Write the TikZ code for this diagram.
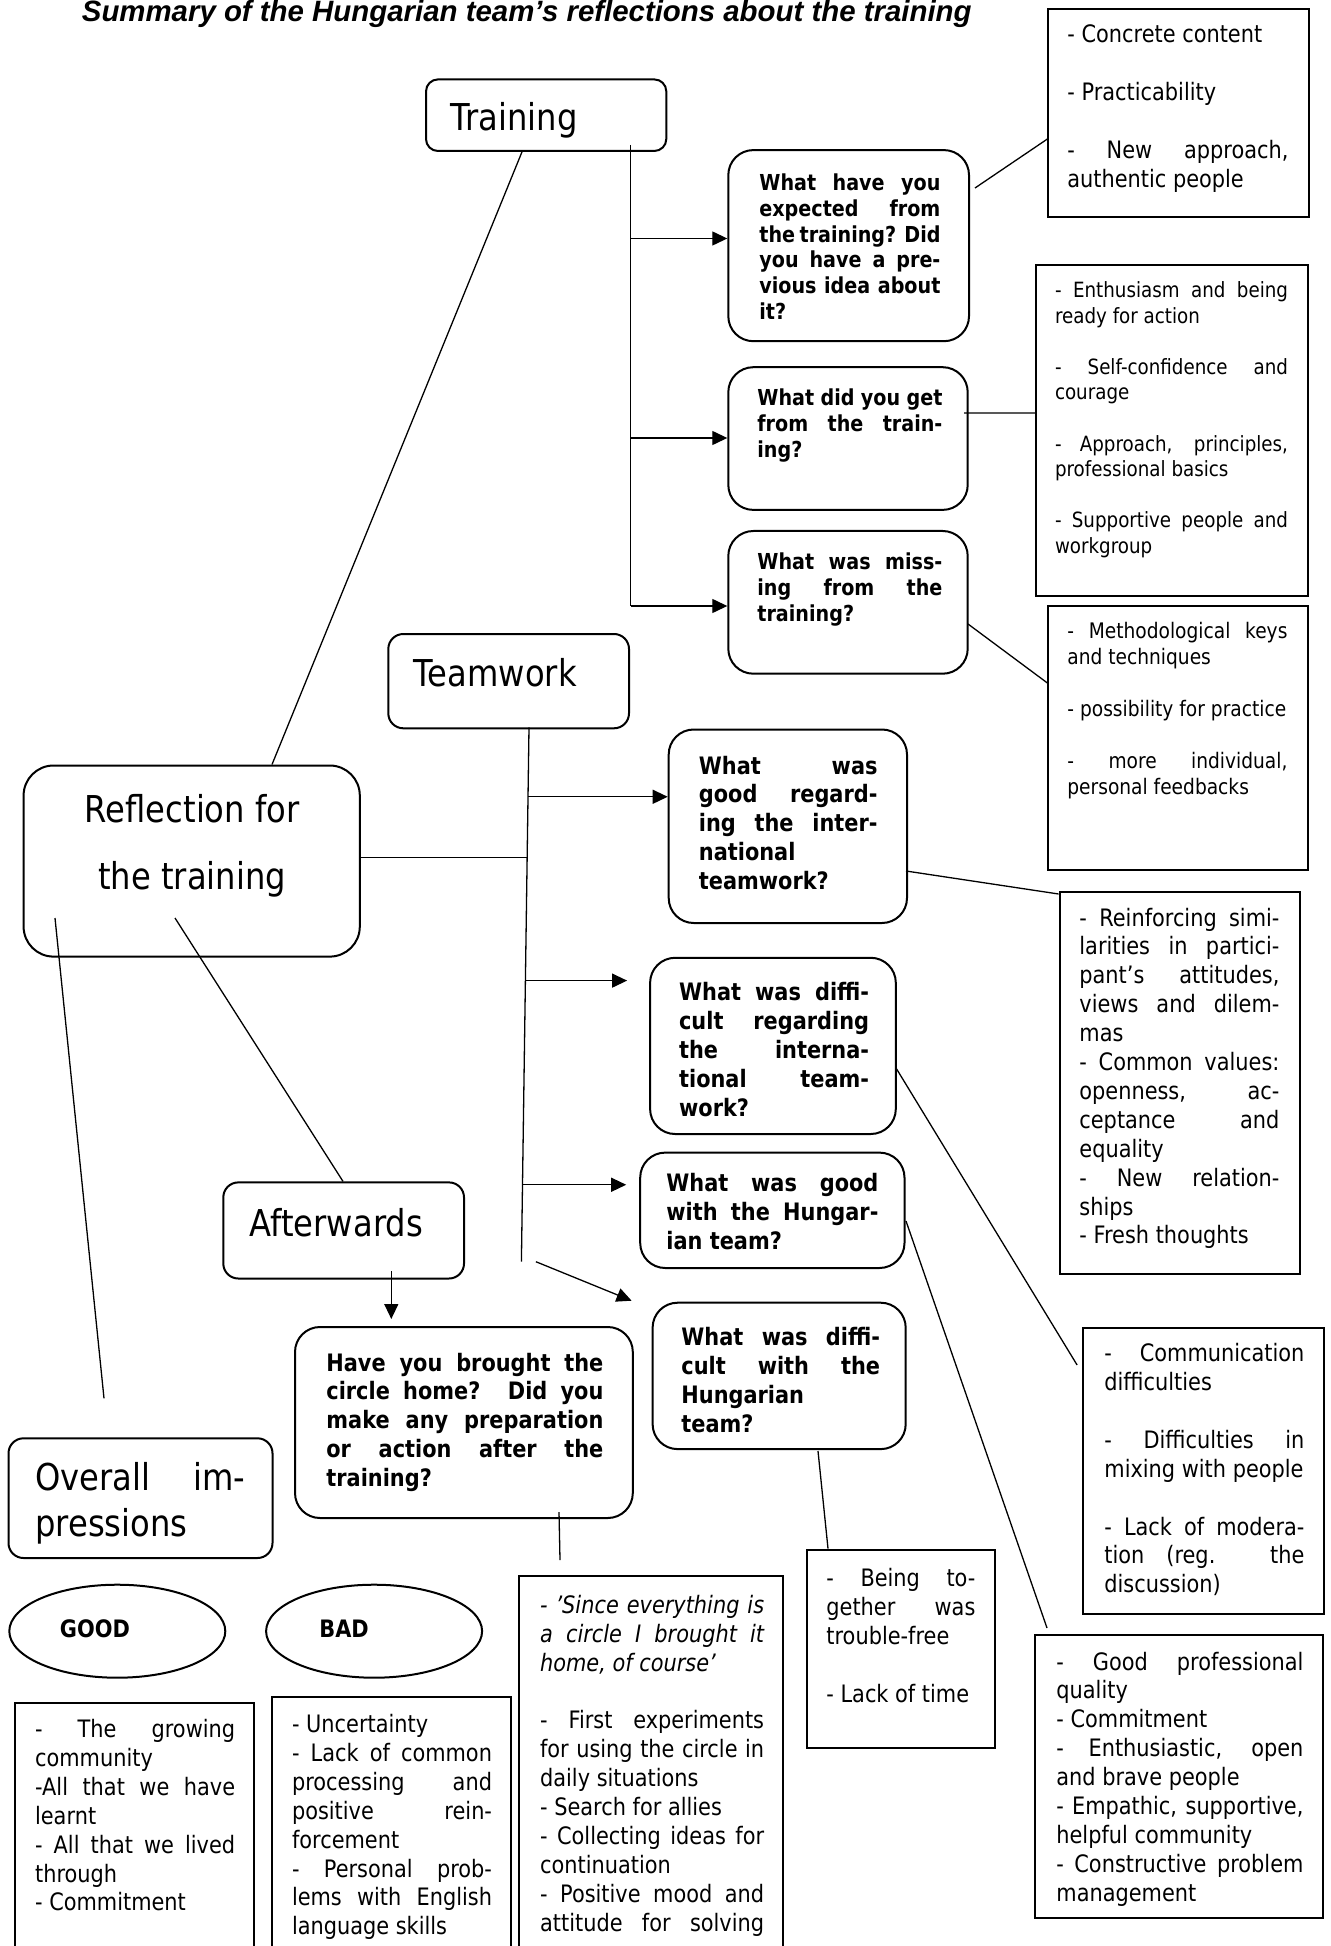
\documentclass[tikz,border=0pt]{standalone}
\usepackage{fontspec}
\setmainfont{DejaVu Sans}[FakeStretch=0.87]
\newfontfamily\headfont{Liberation Sans}
\usetikzlibrary{fit,calc,arrows.meta,shapes.geometric}

% lines of a text block: justified, last line of a paragraph, centred, empty
\newcommand\jrow[1]{\hbox to\hsize{#1}}
\newcommand\lrow[1]{\hbox{#1}}
\newcommand\crow[1]{\hbox to\hsize{\hfil#1\hfil}}
\newcommand\gaprow{\hbox{}}
\newcommand\tblock[2]{\vtop{\hsize=#1\relax #2}}

\begin{document}
\begin{tikzpicture}[x=0.5pt,y=-0.5pt,
  rbox/.style={draw, line width=1pt, rounded corners=12.5pt, inner sep=0pt},
  sbox/.style={draw, line width=1pt, inner sep=0pt},
  oval/.style={draw, ellipse, line width=1pt, inner sep=0pt, minimum width=108pt, minimum height=46.5pt},
  link/.style={line width=0.65pt},
  arr/.style={line width=0.65pt, -{Triangle[length=7.5pt,width=7pt]}},
  lbl/.style={anchor=base west, inner sep=0pt},
  big/.style={lbl, font=\fontsize{18.5}{23.3}\selectfont},
  q11/.style={lbl, font=\bfseries\fontsize{11}{12.9}\selectfont},
  q12/.style={lbl, font=\bfseries\fontsize{12}{14.45}\selectfont},
  r12/.style={lbl, font=\fontsize{12}{14.45}\selectfont},
  r105/.style={lbl, font=\fontsize{10.5}{12.8}\selectfont},
  r107/.style={lbl, font=\fontsize{10.7}{13}\selectfont},
]
\useasboundingbox (0,0) rectangle (1330,1946);
\clip (0,0) rectangle (1330,1946);

% heading
\node[lbl, font=\headfont\bfseries\itshape\fontsize{14.7}{17}\selectfont] (title) at (81.5,22)
  {Summary of the Hungarian team’s reflections about the training};

% ---------- boxes ----------
\node[rbox, rounded corners=6pt, fit={(426,79.4) (666.3,151)}] (train) {};
\node[rbox, fit={(728.3,150.1) (969,341.2)}] (q1) {};
\node[rbox, fit={(728.3,367.2) (967.7,509.9)}] (q2) {};
\node[rbox, fit={(728.3,531) (967.7,673.7)}] (q3) {};
\node[sbox, fit={(1048.4,8.7) (1308.9,217.1)}] (a1) {};
\node[sbox, fit={(1036,265.5) (1307.7,595.5)}] (a2) {};
\node[sbox, fit={(1048.4,605.5) (1307.7,869.7)}] (a3) {};
\node[rbox, rounded corners=7.5pt, fit={(388.3,634) (629,728.3)}] (team) {};
\node[rbox, rounded corners=15pt, fit={(23.6,765.5) (359.8,956.6)}] (refl) {};
\node[rbox, fit={(668.7,729.5) (907,923)}] (q4) {};
\node[sbox, fit={(1059.6,892) (1300.3,1274.2)}] (a4) {};
\node[rbox, fit={(650.1,957.8) (895.8,1134)}] (q5) {};
\node[rbox, fit={(640.2,1152.6) (904.5,1268)}] (q6) {};
\node[rbox, rounded corners=7.5pt, fit={(223.3,1182.4) (464,1278.5)}] (after) {};
\node[rbox, fit={(652.6,1302.7) (905.7,1449.1)}] (q7) {};
\node[sbox, fit={(1083.1,1327.5) (1323.8,1614.2)}] (a5) {};
\node[rbox, fit={(295,1327) (632.8,1518)}] (q8) {};
\node[rbox, rounded corners=7.5pt, fit={(8.5,1438.3) (272.5,1558)}] (overall) {};
\node[oval] (good) at (117.3,1631.2) {};
\node[oval] (bad) at (374.1,1631.2) {};
\node[sbox, fit={(14.9,1702.5) (254.3,1975)}] (glist) {};
\node[sbox, fit={(271.7,1697.3) (511.2,1975)}] (blist) {};
\node[sbox, fit={(518.6,1575.7) (782.9,1975)}] (since) {};
\node[sbox, fit={(806.5,1549.6) (995,1748.1)}] (being) {};
\node[sbox, fit={(1034.7,1635.2) (1322.6,1918.1)}] (gprof) {};

% ---------- labels ----------
\node[big] (train-t) at (450,131) {Training};
\node[big] (team-t) at (413.3,686.7) {Teamwork};
\node[big] (after-t) at (249.3,1236) {Afterwards};
\node[big, anchor=base, font=\fontsize{18.5}{33.3}\selectfont] (refl-t) at (192.2,822.7)
  {\tblock{150pt}{\crow{Reflection for}\crow{the training}}};
\node[big] (overall-t) at (35,1490)
  {\tblock{105pt}{\jrow{Overall im-}\lrow{pressions}}};
\node[q12] (good-t) at (59.5,1637.3) {GOOD};
\node[q12] (bad-t) at (319,1637.3) {BAD};

% questions
\node[q11] (q1-t) at (759,190.6) {\tblock{90.5pt}{%
  \jrow{What have you}\jrow{expected from}\jrow{the training? Did}%
  \jrow{you have a pre-}\jrow{vious idea about}\lrow{it?}}};
\node[q11] (q2-t) at (757,406) {\tblock{92.5pt}{%
  \jrow{What did you get}\jrow{from the train-}\lrow{ing?}}};
\node[q11] (q3-t) at (757,569.5) {\tblock{92.5pt}{%
  \jrow{What was miss-}\jrow{ing from the}\lrow{training?}}};
\node[q12] (q4-t) at (698.5,774) {\tblock{89.3pt}{%
  \jrow{What was}\jrow{good regard-}\jrow{ing the inter-}\lrow{national}\lrow{teamwork?}}};
\node[q12] (q5-t) at (678.7,1000.6) {\tblock{95pt}{%
  \jrow{What was diffi-}\jrow{cult regarding}\jrow{the interna-}\jrow{tional team-}\lrow{work?}}};
\node[q12] (q6-t) at (666,1191.6) {\tblock{106pt}{%
  \jrow{What was good}\jrow{with the Hungar-}\lrow{ian team?}}};
\node[q12] (q7-t) at (681,1345.5) {\tblock{99.3pt}{%
  \jrow{What was diffi-}\jrow{cult with the}\lrow{Hungarian}\lrow{team?}}};
\node[q12] (q8-t) at (326,1371) {\tblock{138.5pt}{%
  \jrow{Have you brought the}\jrow{circle home? Did you}\jrow{make any preparation}%
  \jrow{or action after the}\lrow{training?}}};

% answers
\node[r12] (a1-t) at (1067,42.7) {\tblock{110.5pt}{%
  \lrow{- Concrete content}\gaprow\lrow{- Practicability}\gaprow
  \jrow{- New approach,}\lrow{authentic people}}};
\node[r105] (a2-t) at (1054.6,297.5) {\tblock{116.5pt}{%
  \jrow{- Enthusiasm and being}\lrow{ready for action}\gaprow
  \jrow{- Self-confidence and}\lrow{courage}\gaprow
  \jrow{- Approach, principles,}\lrow{professional basics}\gaprow
  \jrow{- Supportive people and}\lrow{workgroup}}};
\node[r107] (a3-t) at (1067,638.3) {\tblock{110pt}{%
  \jrow{- Methodological keys}\lrow{and techniques}\gaprow
  \lrow{- possibility for practice}\gaprow
  \jrow{- more individual,}\lrow{personal feedbacks}}};
\node[r12] (a4-t) at (1079,926) {\tblock{100pt}{%
  \jrow{- Reinforcing simi-}\jrow{larities in partici-}\jrow{pant’s attitudes,}%
  \jrow{views and dilem-}\lrow{mas}\jrow{- Common values:}\jrow{openness, ac-}%
  \jrow{ceptance and}\lrow{equality}\jrow{- New relation-}\lrow{ships}%
  \lrow{- Fresh thoughts}}};
\node[r12] (a5-t) at (1104,1361.6) {\tblock{100pt}{%
  \jrow{- Communication}\lrow{difficulties}\gaprow
  \jrow{- Difficulties in}\lrow{mixing with people}\gaprow
  \jrow{- Lack of modera-}\jrow{tion (reg. the}\lrow{discussion)}}};
\node[r12] (glist-t) at (34.7,1737.5) {\tblock{100pt}{%
  \jrow{- The growing}\lrow{community}\jrow{-All that we have}\lrow{learnt}%
  \jrow{- All that we lived}\lrow{through}\lrow{- Commitment}}};
\node[r12] (blist-t) at (291.6,1732.5) {\tblock{100pt}{%
  \lrow{- Uncertainty}\jrow{- Lack of common}\jrow{processing and}%
  \jrow{positive rein-}\lrow{forcement}\jrow{- Personal prob-}%
  \jrow{lems with English}\lrow{language skills}}};
\node[r12] (since-t) at (539.7,1613.3) {\tblock{112pt}{%
  \jrow{\itshape - ’Since everything is}\jrow{\itshape a circle I brought it}%
  \lrow{\itshape home, of course’}\gaprow
  \jrow{- First experiments}\jrow{for using the circle in}\lrow{daily situations}%
  \lrow{- Search for allies}\jrow{- Collecting ideas for}\lrow{continuation}%
  \jrow{- Positive mood and}\jrow{attitude for solving}}};
\node[r12] (being-t) at (826,1586.5) {\tblock{74.5pt}{%
  \jrow{- Being to-}\jrow{gether was}\lrow{trouble-free}\gaprow\lrow{- Lack of time}}};
\node[r12] (gprof-t) at (1056,1670) {\tblock{123.5pt}{%
  \jrow{- Good professional}\lrow{quality}\lrow{- Commitment}%
  \jrow{- Enthusiastic, open}\lrow{and brave people}%
  \jrow{- Empathic, supportive,}\lrow{helpful community}%
  \jrow{- Constructive problem}\lrow{management}}};

% ---------- connectors ----------
% Training branch
\draw[link] ($(train.north west)+(97.6,72)$) -- ($(refl.north west)+(249.4,0)$);
\coordinate (trkA) at ($(train.north west)+(205.5,66.6)$);
\coordinate (q1in) at ($(q1.north west)+(0,89.4)$);
\coordinate (q2in) at ($(q2.north west)+(0,71.8)$);
\coordinate (q3in) at ($(q3.north west)+(0,76)$);
\draw[link] (trkA) -- (trkA |- q3in);
\draw[arr] (trkA |- q1in) -- (q1in);
\draw[arr] (trkA |- q2in) -- (q2in);
\draw[arr] (trkA |- q3in) -- (q3in);
\draw[link] ($(q1.north west)+(247.7,38.9)$) -- ($(a1.north west)+(0,131.3)$);
\draw[link] ($(q2.north west)+(236.7,46.8)$) -- ($(a2.north west)+(0,148.5)$);
\draw[link] ($(q3.north west)+(240.7,94)$) -- ($(a3.north west)+(0,78.5)$);

% Teamwork branch
\coordinate (trkB) at ($(team.north west)+(141.7,94.3)$);
\coordinate (trkC) at (521.4,1261.7);
\draw[link] (trkB) -- (trkC);
\coordinate (jr) at ($(trkB)!0.243!(trkC)$);
\draw[link] (jr -| refl.east) -- (jr);
\coordinate (j4) at ($(trkB)!0.13!(trkC)$);
\draw[arr] (j4) -- (j4 -| q4.west);
\coordinate (j5) at ($(trkB)!0.474!(trkC)$);
\draw[arr] (j5) -- ($(j5 -| q5.west)+(-22,0)$);
\coordinate (j6) at ($(trkB)!0.856!(trkC)$);
\draw[arr] (j6) -- ($(j6 -| q6.west)+(-13,0)$);
\draw[arr] ($(trkC)+(14.5,0)$) -- ($(q7.north west)+(-20,-1)$);
\draw[link] ($(q4.north west)+(238.3,142.5)$) -- ($(a4.north west)+(0,3)$);
\draw[link] ($(q5.north west)+(246.9,111.2)$) -- ($(a5.north west)+(-5,38.5)$);
\draw[link] ($(q6.north west)+(266.8,69.4)$) -- ($(gprof.north west)+(13.3,-6.2)$);
\draw[link] ($(q7.north west)+(166.4,149.3)$) -- ($(being.north west)+(22.5,0)$);

% Afterwards branch
\draw[link] ($(refl.north west)+(152.4,153.5)$) -- ($(after.north west)+(120.7,0)$);
\draw[arr] ($(after.north west)+(169,90)$) -- ($(q8.north west)+(97.3,-7)$);
\coordinate (stub) at (560,1560);
\draw[link] ($(q8.north west)+(265,186)$) -- (stub);

% Overall impressions branch
\coordinate (ovtop) at (104,1398.3);
\draw[link] ($(refl.north west)+(32.4,153.5)$) -- (ovtop);
\end{tikzpicture}
\end{document}
